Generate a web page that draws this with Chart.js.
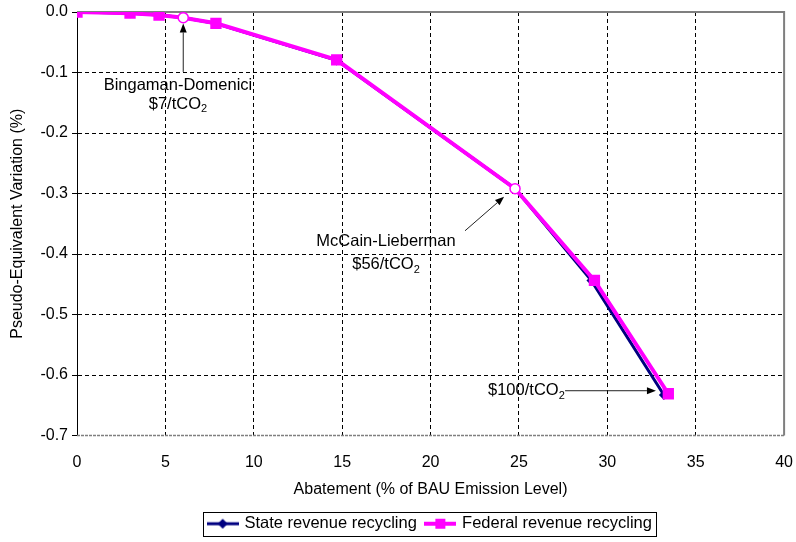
<!DOCTYPE html>
<html><head><meta charset="utf-8">
<script src="https://cdn.jsdelivr.net/npm/chart.js@4.4.0/dist/chart.umd.min.js"></script>
<style>html,body{margin:0;padding:0;background:#fff}</style>
</head><body>
<canvas id="c" width="796" height="542"></canvas>
<script>
// ---- data ----
const seriesNames = ['State revenue recycling', 'Federal revenue recycling'];
const stateX   = [0, 3.0, 4.64, 6.01, 7.86, 14.69, 24.78, 29.1, 33.2];
const stateY   = [0, -0.002, -0.005, -0.0094, -0.019, -0.080, -0.292, -0.444, -0.633];
const federalX = [0, 3.0, 4.64, 6.01, 7.86, 14.69, 24.78, 29.27, 33.45];
const federalY = [0, -0.002, -0.005, -0.0094, -0.0187, -0.079, -0.292, -0.4436, -0.631];
const policyX  = [6.01, 24.78];
const policyY  = [-0.0094, -0.292];
const noteNames  = ['Bingaman-Domenici', 'McCain-Lieberman', ''];
const notePrices = ['$7/tCO', '$56/tCO', '$100/tCO'];
const xTickValues = [0, 5, 10, 15, 20, 25, 30, 35, 40];
const yTickValues = [0, -0.1, -0.2, -0.3, -0.4, -0.5, -0.6, -0.7];
const xTitle = 'Abatement (% of BAU Emission Level)';
const yTitle = 'Pseudo-Equivalent Variation (%)';

// ---- annotation layout (value coordinates) ----
const noteLayout = [
  {name: [5.71, -0.122], price: [5.71, -0.152], align: 'center', from: [6.01, -0.099], to: [6.01, -0.019]},
  {name: [17.48, -0.380], price: [17.48, -0.418], align: 'center', from: [21.95, -0.3616], to: [24.16, -0.3054]},
  {name: null, price: [23.25, -0.626], align: 'left', from: [27.61, -0.626], to: [32.75, -0.626]}
];

const FONT = '"Liberation Sans", Arial, Helvetica, sans-serif';
Chart.defaults.font.family = FONT;
Chart.defaults.font.size = 16;
Chart.defaults.color = '#000';

const NAVY = '#000080', MAG = '#FF00FF';
const isPolicy = x => policyX.includes(x);

function legendSample(color, width, style) {
  const c = document.createElement('canvas');
  c.width = 32; c.height = 14;
  const g = c.getContext('2d');
  g.strokeStyle = color; g.lineWidth = width;
  g.beginPath(); g.moveTo(0, 7); g.lineTo(32, 7); g.stroke();
  g.fillStyle = color;
  if (style === 'diamond') {
    g.beginPath(); g.moveTo(16, 2); g.lineTo(21, 7); g.lineTo(16, 12); g.lineTo(11, 7); g.closePath(); g.fill();
  } else {
    g.fillRect(11, 2, 10, 10);
  }
  return c;
}
const legendImgs = [legendSample(NAVY, 3, 'diamond'), legendSample(MAG, 4, 'square')];

const frame = {
  id: 'frame',
  afterLayout(chart) {
    const lg = chart.legend, a = chart.chartArea;
    if (!lg) return;
    const shift = ((a.left + a.right) - (lg.left + lg.right)) / 2;
    lg.left += shift; lg.right += shift;
  },
  beforeDatasetsDraw(chart) {
    const {ctx, chartArea: a} = chart;
    ctx.save();
    ctx.strokeStyle = '#7f7f7f';
    ctx.lineWidth = 2;
    ctx.beginPath();
    ctx.moveTo(a.left, a.top); ctx.lineTo(a.right, a.top); ctx.lineTo(a.right, a.bottom);
    ctx.stroke();
    ctx.lineWidth = 1.5;
    ctx.setLineDash([3, 1]);
    ctx.beginPath(); ctx.moveTo(a.left, a.bottom); ctx.lineTo(a.right, a.bottom); ctx.stroke();
    ctx.restore();
  },
  afterDraw(chart) {
    const {ctx} = chart;
    const hb = chart.legend && chart.legend.legendHitBoxes;
    if (!hb || !hb.length) return;
    let l = Infinity, r = -Infinity, t = Infinity, b = -Infinity;
    hb.forEach(h => { l = Math.min(l, h.left); r = Math.max(r, h.left + h.width); t = Math.min(t, h.top); b = Math.max(b, h.top + h.height); });
    ctx.save();
    ctx.strokeStyle = '#000'; ctx.lineWidth = 1;
    ctx.strokeRect(Math.round(l - 6) + 0.5, Math.round(t - 4) + 0.5, Math.round(r - l + 10), Math.round(b - t + 7));
    ctx.restore();
  }
};

function drawChem(ctx, main, sub, x, y, align, size) {
  const mf = size + 'px ' + FONT, sf = Math.round(size * 0.68) + 'px ' + FONT;
  ctx.font = mf; const w1 = ctx.measureText(main).width;
  ctx.font = sf; const w2 = ctx.measureText(sub).width;
  const x0 = align === 'center' ? x - (w1 + w2) / 2 : x;
  ctx.textAlign = 'left'; ctx.textBaseline = 'middle';
  ctx.font = mf; ctx.fillText(main, x0, y);
  ctx.font = sf; ctx.fillText(sub, x0 + w1, y + size * 0.3);
}

const notesPlugin = {
  id: 'notes',
  afterDatasetsDraw(chart) {
    const {ctx, scales: {x, y}} = chart;
    ctx.save();
    ctx.fillStyle = '#000';
    noteLayout.forEach((n, i) => {
      if (n.name && noteNames[i]) {
        ctx.font = '16.5px ' + FONT; ctx.textAlign = 'center'; ctx.textBaseline = 'middle';
        ctx.fillText(noteNames[i], x.getPixelForValue(n.name[0]), y.getPixelForValue(n.name[1]));
      }
      drawChem(ctx, notePrices[i], '2', x.getPixelForValue(n.price[0]), y.getPixelForValue(n.price[1]), n.align, 16.5);
      const x1 = x.getPixelForValue(n.from[0]), y1 = y.getPixelForValue(n.from[1]);
      const x2 = x.getPixelForValue(n.to[0]), y2 = y.getPixelForValue(n.to[1]);
      const ang = Math.atan2(y2 - y1, x2 - x1), L = 9, W = 3.5;
      ctx.strokeStyle = '#222'; ctx.lineWidth = 1;
      ctx.beginPath(); ctx.moveTo(x1, y1);
      ctx.lineTo(x2 - L * Math.cos(ang), y2 - L * Math.sin(ang)); ctx.stroke();
      ctx.fillStyle = '#000';
      ctx.beginPath(); ctx.moveTo(x2, y2);
      ctx.lineTo(x2 - L * Math.cos(ang) + W * Math.sin(ang), y2 - L * Math.sin(ang) - W * Math.cos(ang));
      ctx.lineTo(x2 - L * Math.cos(ang) - W * Math.sin(ang), y2 - L * Math.sin(ang) + W * Math.cos(ang));
      ctx.closePath(); ctx.fill();
    });
    ctx.restore();
  }
};

const toPts = (xs, ys) => xs.map((v, i) => ({x: v, y: ys[i]}));
const edgeHidden = (ctx, n) => (ctx.index === 0 || ctx.index === n - 1) ? 'rgba(0,0,0,0)' : '#000';

new Chart(document.getElementById('c'), {
  type: 'scatter',
  data: {
    datasets: [
      {label: seriesNames[0], data: toPts(stateX, stateY), showLine: true, order: 3,
       borderColor: NAVY, backgroundColor: NAVY, borderWidth: 3, pointStyle: 'rectRot',
       pointRadius: c => isPolicy(c.raw.x) ? 0 : 5, pointBorderWidth: 0},
      {label: seriesNames[1], data: toPts(federalX, federalY), showLine: true, order: 2,
       borderColor: MAG, backgroundColor: MAG, borderWidth: 4, pointStyle: 'rect',
       pointRadius: c => isPolicy(c.raw.x) ? 0 : 8, pointBorderWidth: 0},
      {label: 'policy', data: toPts(policyX, policyY), showLine: false, order: 1,
       pointStyle: 'circle', pointRadius: 5, backgroundColor: '#fff', borderColor: MAG, borderWidth: 1.5}
    ]
  },
  options: {
    responsive: false, animation: false, devicePixelRatio: 1,
    layout: {padding: {top: 12, right: 0, left: 0, bottom: 0}},
    plugins: {
      tooltip: {enabled: false},
      legend: {
        position: 'bottom',
        labels: {
          usePointStyle: true, pointStyleWidth: 27, padding: 10, color: '#000',
          font: {size: 16.5},
          filter: item => item.datasetIndex < 2,
          sort: (a, b) => a.datasetIndex - b.datasetIndex,
          generateLabels(chart) {
            const items = Chart.defaults.plugins.legend.labels.generateLabels(chart);
            items.forEach(it => { if (it.datasetIndex < 2) it.pointStyle = legendImgs[it.datasetIndex]; });
            return items;
          }
        }
      }
    },
    scales: {
      x: {
        type: 'linear', min: 0, max: 40,
        afterBuildTicks: s => { s.ticks = xTickValues.map(v => ({value: v})); },
        afterFit: s => { s.height = 70; },
        ticks: {padding: 3, font: {size: 16}},
        grid: {drawTicks: true, tickLength: 14, tickColor: 'rgba(0,0,0,0)', color: c => edgeHidden(c, xTickValues.length), lineWidth: 1},
        border: {display: false, dash: [4, 3]},
        title: {display: true, text: xTitle, font: {size: 16}, padding: {top: 0, bottom: 6}}
      },
      y: {
        type: 'linear', min: -0.7, max: 0,
        afterBuildTicks: s => { s.ticks = yTickValues.map(v => ({value: v})); },
        afterFit: s => { s.width = 77; },
        ticks: {padding: 4, font: {size: 16, lineHeight: 1}, callback: v => (Math.abs(v) < 1e-9 ? 0 : v).toFixed(1)},
        grid: {drawTicks: true, tickLength: 5, tickColor: '#000', color: c => edgeHidden(c, yTickValues.length), lineWidth: 1},
        border: {display: true, color: '#000', width: 1, dash: [4, 3]},
        title: {display: true, text: yTitle, font: {size: 16}, padding: {top: 8, bottom: 0}}
      }
    }
  },
  plugins: [frame, notesPlugin]
});
</script>
</body></html>
